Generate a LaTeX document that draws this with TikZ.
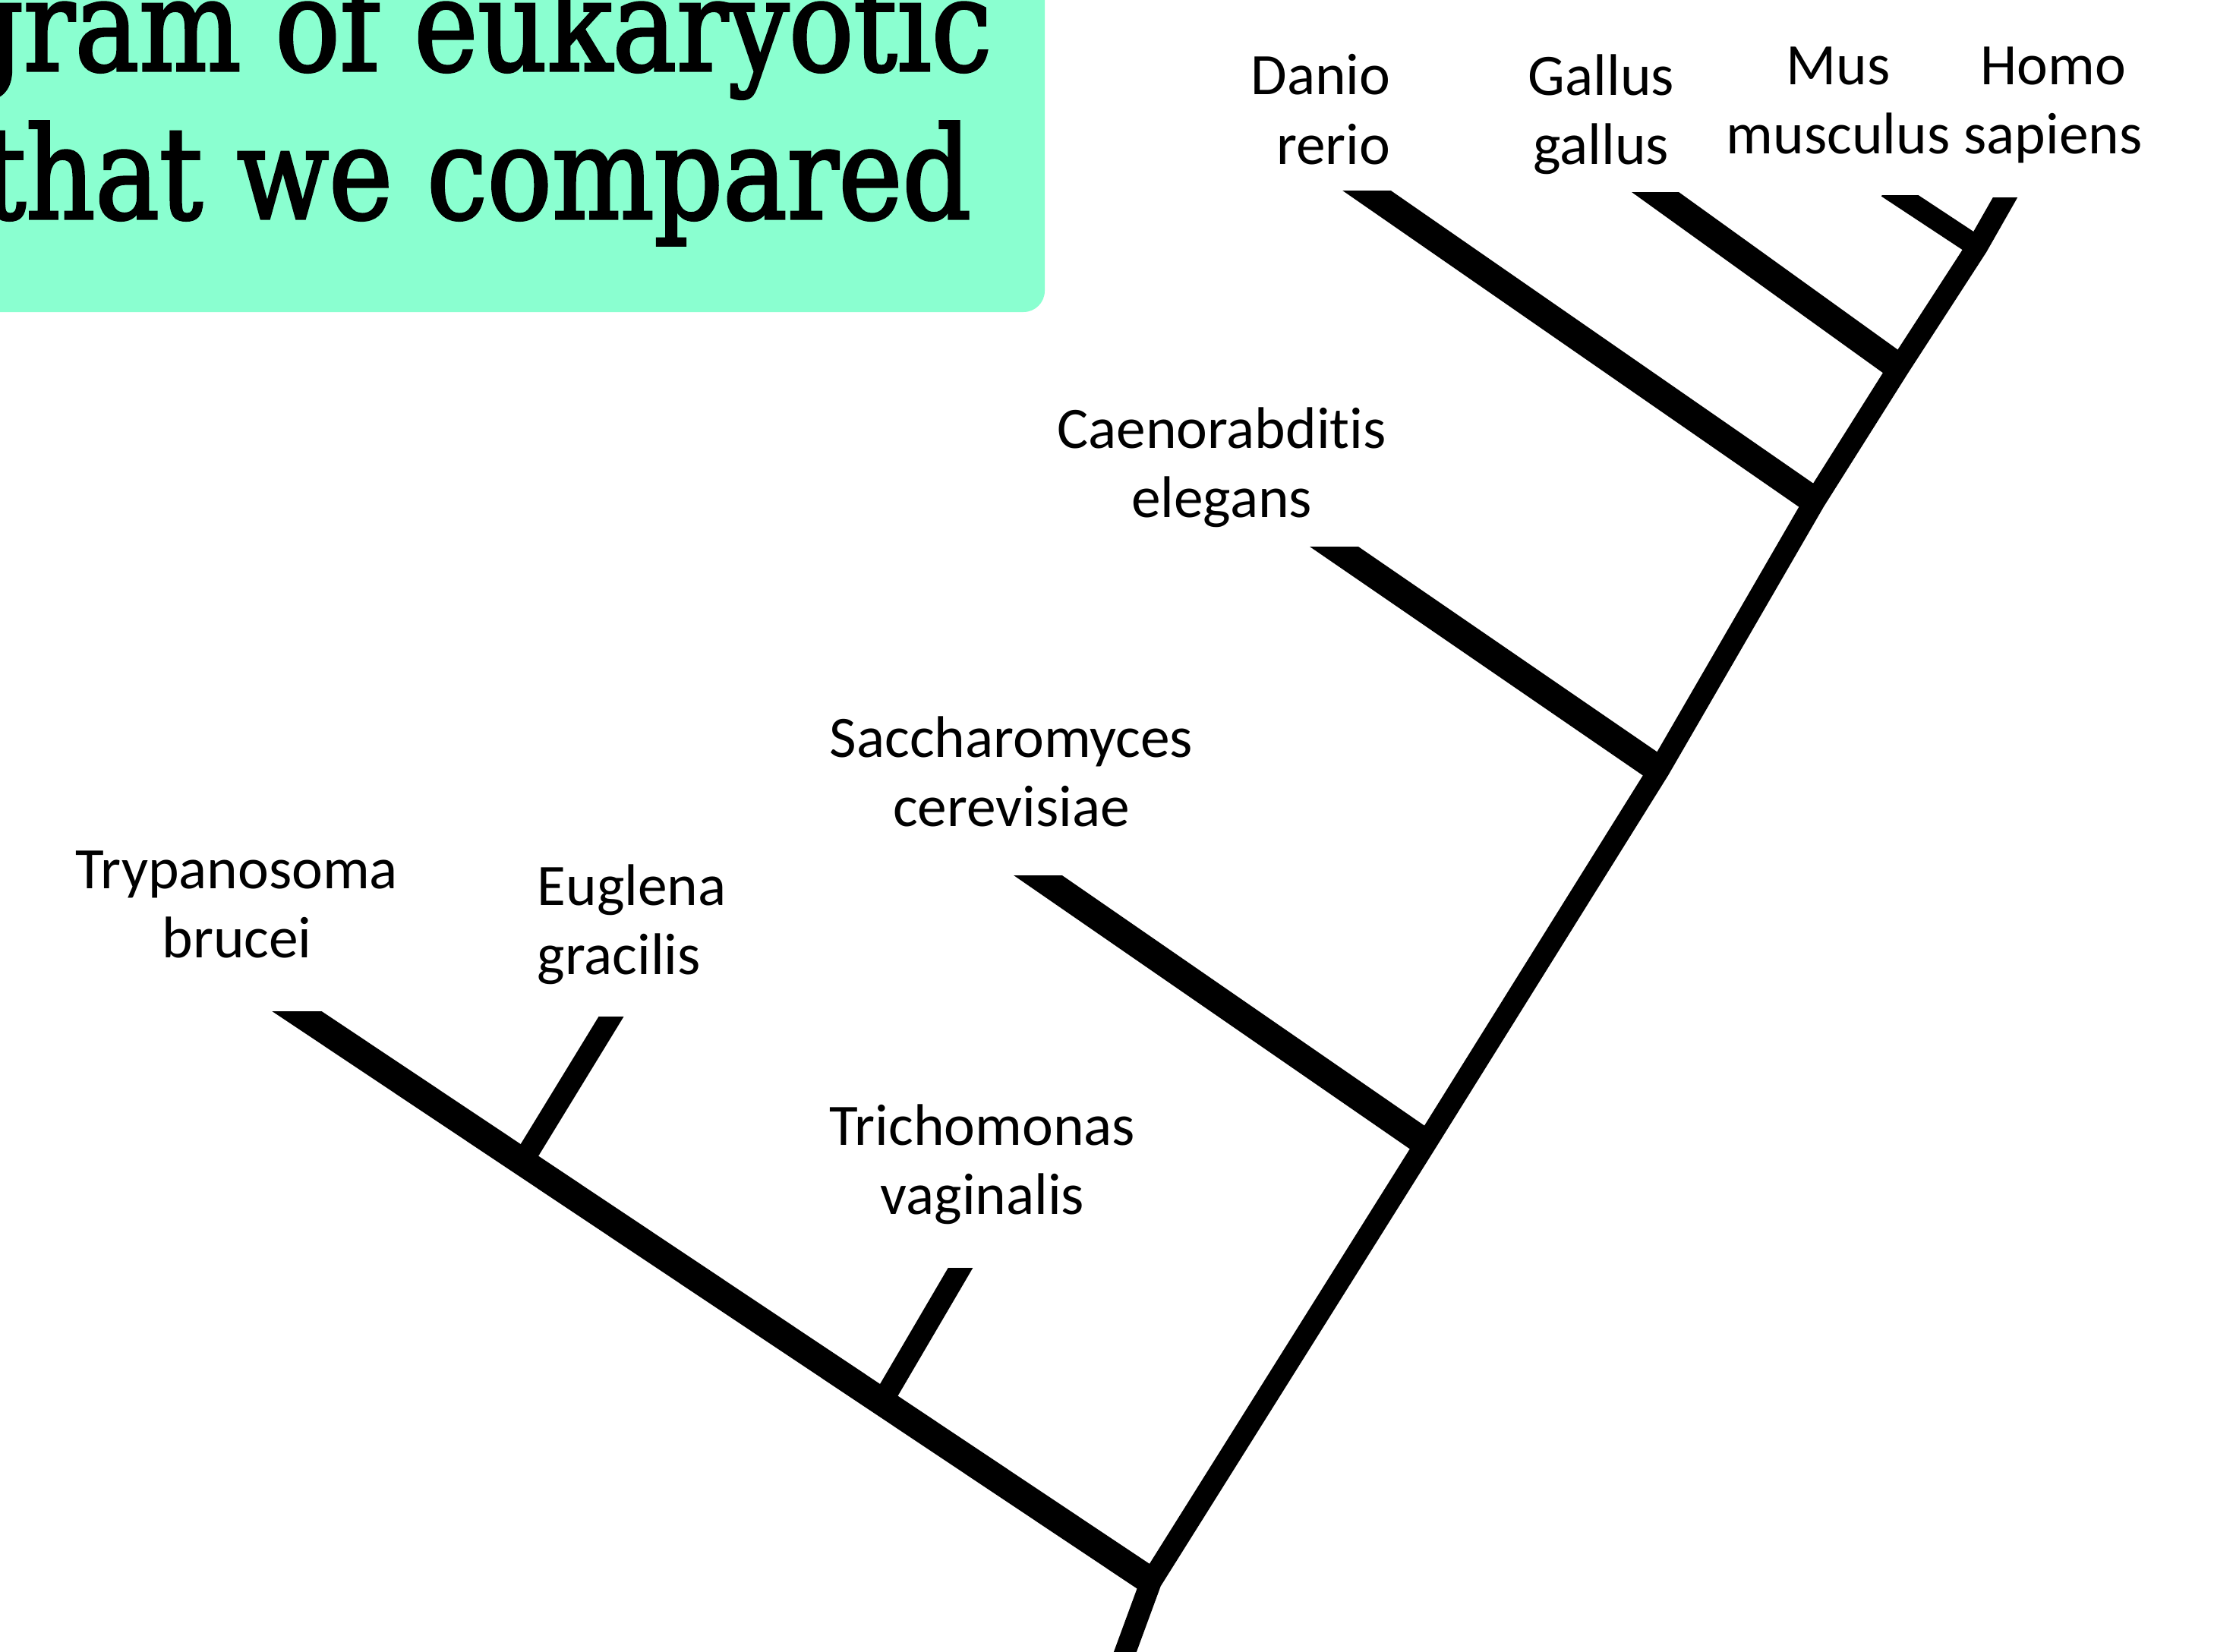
\documentclass[tikz,border=0pt]{standalone}
\usepackage{fontspec}
\setmainfont[Ligatures={NoCommon}]{Carlito}
\newfontfamily\titlefont[FakeStretch=0.84,FakeBold=2]{DejaVu Serif}
\usetikzlibrary{calc}
\definecolor{mint}{RGB}{138,255,208}
\begin{document}
\begin{tikzpicture}[x=0.01cm,y=-0.01cm,
  trunk/.style={line width=8pt, line cap=butt, line join=miter},
  branch/.style={line width=10.3pt, line cap=butt},
  twig/.style={line width=8pt, line cap=butt},
  taxon/.style={font=\fontsize{22}{25.9}\selectfont, inner sep=0pt, align=center},
  titletext/.style={font=\titlefont\fontsize{48}{56}\selectfont, inner sep=0pt, anchor=base east}]
\coordinate (O) at (0,0);
\coordinate (BR) at (2916,2175);
\useasboundingbox (O) rectangle (BR);
% title box
\fill[mint, rounded corners=0.28cm] (-100,-100) rectangle (1376,411);
\node[titletext] (t1) at (1307,93) {gram of eukaryotic};
\node[titletext] (t2) at (1280,288) {that we compared};
% trunk points
\coordinate (root) at (1462,2230);
\coordinate (J1) at (1516,2083);
\coordinate (J2) at (1878,1506);
\coordinate (J3) at (2185,1014);
\coordinate (J4) at (2390,660);
\coordinate (J5) at (2501,484);
\coordinate (J6) at (2604,325);
\coordinate (tHomo) at (2641,260);
% tips
\coordinate (tDanio) at (1800,251);
\coordinate (tGallus) at (2180,253);
\coordinate (tMus) at (2501,257);
\coordinate (tCaeno) at (1757,720);
\coordinate (tSacch) at (1367,1153);
\coordinate (tTry) at (391,1332);
\coordinate (tEug) at (805,1339);
\coordinate (tTri) at (1265,1670);
\coordinate (E0) at ($(J1)!0.736!(tTry)$);
\coordinate (T0) at ($(J1)!0.315!(tTry)$);
% branches with horizontally cut tips
\foreach \t/\b/\s in {tDanio/J4/branch, tGallus/J5/branch, tMus/J6/twig, tCaeno/J3/branch, tSacch/J2/branch, tTry/J1/branch, tEug/E0/twig, tTri/T0/twig}{
  \begin{scope}
    \clip (O |- \t) rectangle (BR);
    \draw[\s] ($(\t)!-0.15!(\b)$) -- (\b);
  \end{scope}
}
% trunk
\begin{scope}
  \clip (O |- tHomo) rectangle (BR);
  \draw[trunk] (root) -- (J1) -- (J2) -- (J3) -- (J4) -- (J5) -- (J6) -- (tHomo) -- ($(J6)!1.5!(tHomo)$);
\end{scope}
% labels
\node[taxon, anchor=north east, align=right] (lDanio) at (1832,71) {Danio\\rerio};
\node[taxon, anchor=north] (lGallus) at (2109,71) {Gallus\\gallus};
\node[taxon, anchor=north] (lMus) at (2421,61) {Mus\\musculus};
\node[taxon, anchor=north] (lHomo) at (2704,61) {Homo\\sapiens};
\node[taxon, anchor=north] (lCaeno) at (1609,536) {Caenorabdit\kern0pt{}is\\elegans};
\node[taxon, anchor=north] (lSacch) at (1332,943) {Saccharomyces\\cerevisiae};
\node[taxon, anchor=north] (lTry) at (312,1120) {Trypanosoma\\brucei};
\node[taxon, anchor=north west, align=left] (lEug) at (707,1138) {Euglena\\gracilis};
\node[taxon, anchor=north] (lTri) at (1294,1454) {Trichomonas\\vaginalis};
\end{tikzpicture}
\end{document}
